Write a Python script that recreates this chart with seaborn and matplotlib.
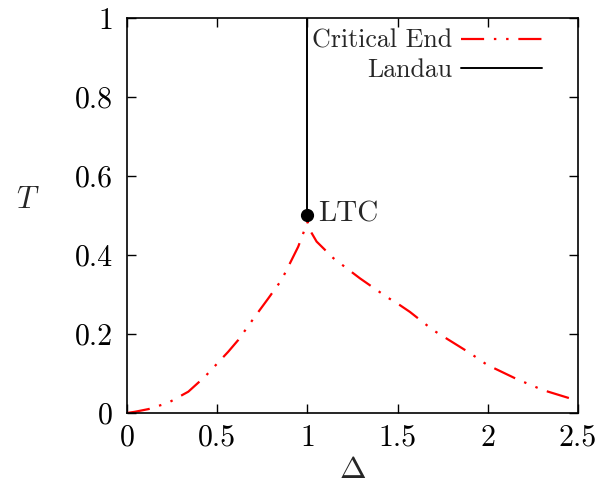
import numpy as np
import pandas as pd
import matplotlib
matplotlib.use("Agg")
import matplotlib.pyplot as plt
import seaborn as sns

# Critical end line (left branch then right branch, cusp at Delta=1)
crit_delta = [0.0, 0.043, 0.12, 0.229, 0.34, 0.432, 0.561, 0.617, 0.709, 0.783, 0.857,
              0.912, 0.949, 0.977, 1.0,
              1.014, 1.051, 1.144, 1.291, 1.439, 1.513, 1.568, 1.696, 1.90, 1.996,
              2.16, 2.306, 2.47, 2.5]
crit_T = [0.0, 0.003, 0.010, 0.026, 0.054, 0.092, 0.155, 0.185, 0.244, 0.29, 0.337,
          0.387, 0.421, 0.455, 0.484,
          0.463, 0.434, 0.392, 0.341, 0.294, 0.273, 0.256, 0.21, 0.152, 0.122,
          0.086, 0.058, 0.035, 0.031]

# Landau line (vertical)
landau_delta = [1.0, 1.0]
landau_T = [0.5, 1.0]

# LTC point
ltc_delta = [1.0]
ltc_T = [0.5]

xticks = [0, 0.5, 1, 1.5, 2, 2.5]
xtick_labels = ["0", "0.5", "1", "1.5", "2", "2.5"]
yticks = [0, 0.2, 0.4, 0.6, 0.8, 1]
ytick_labels = ["0", "0.2", "0.4", "0.6", "0.8", "1"]

sns.set_theme(style="ticks")
plt.rcParams["font.family"] = ["cmr10", "DejaVu Serif"]
plt.rcParams["mathtext.fontset"] = "cm"
plt.rcParams["axes.formatter.use_mathtext"] = True

fig = plt.figure(figsize=(6.14, 4.98), dpi=100)
ax = fig.add_axes([127 / 614, 85 / 498, 451 / 614, 395 / 498])

df_crit = pd.DataFrame({"Delta": crit_delta, "T": crit_T})
df_landau = pd.DataFrame({"Delta": landau_delta, "T": landau_T})

sns.lineplot(data=df_crit, x="Delta", y="T", ax=ax, sort=False, estimator=None,
             color="#ff0000", lw=1.6, label="Critical End",
             linestyle=(0, (10.4, 4.4, 1.1, 4.4, 1.1, 4.4)))
sns.lineplot(data=df_landau, x="Delta", y="T", ax=ax, sort=False, estimator=None,
             color="black", lw=1.4, label="Landau")
ax.plot(ltc_delta, ltc_T, "o", color="black", ms=8.5, zorder=5)
ax.text(ltc_delta[0] + 0.06, ltc_T[0] + 0.004, "LTC", fontsize=21, va="center", ha="left")

ax.set_xlim(0, 2.5)
ax.set_ylim(0, 1)
ax.set_xticks(xticks)
ax.set_xticklabels(xtick_labels)
ax.set_yticks(yticks)
ax.set_yticklabels(ytick_labels)
ax.tick_params(direction="in", length=6.5, width=1.0, top=True, right=True,
               labelsize=21.5, color="black", labelcolor="black")
ax.tick_params(axis="y", pad=10)
ax.tick_params(axis="x", pad=8)
for s in ax.spines.values():
    s.set_visible(True)
    s.set_color("black")
    s.set_linewidth(1.2)

ax.set_xlabel(r"$\Delta$", fontsize=23)
ax.set_ylabel(r"$T$", fontsize=22, rotation=0)
ax.xaxis.set_label_coords(0.5, -(470 - 413) / 395)
ax.xaxis.label.set_va("center")
ax.yaxis.set_label_coords((28 - 127) / 451, (413 - 200) / 395)
ax.yaxis.label.set_va("center")
ax.yaxis.label.set_ha("center")

leg = ax.legend(loc="upper right", bbox_to_anchor=((542 - 127) / 451, (413 - 29) / 395),
                frameon=False, markerfirst=False, fontsize=18.7, handlelength=3.1,
                handletextpad=0.35, labelspacing=0.2, borderpad=0, borderaxespad=0)

ax.set_facecolor("white")
fig.patch.set_facecolor("white")
fig.savefig("out.png", dpi=100)
